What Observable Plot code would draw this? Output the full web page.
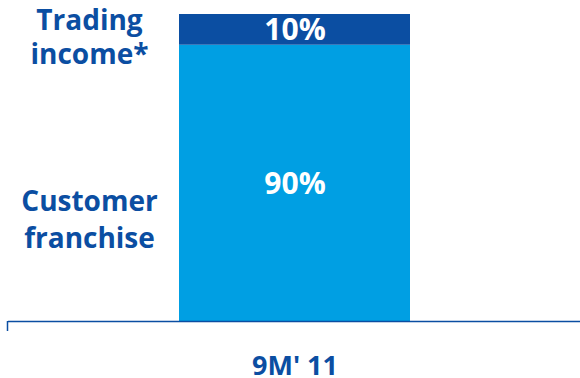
<!DOCTYPE html>
<html><head><meta charset="utf-8">
<script src="https://cdn.jsdelivr.net/npm/d3@7"></script>
<script src="https://cdn.jsdelivr.net/npm/@observablehq/plot@0.6"></script>
<style>body{margin:0;background:#fff}#chart svg{display:block}</style>
</head><body><div id="chart"></div>
<script>
const periods = ["9M' 11"];
const segments = ["Customer franchise", "Trading income*"];
const shares = [90, 10];
const segmentLabels = ["Customer\nfranchise", "Trading\nincome*"];
const colors = ["#009FE3", "#0B4EA2"];
const textBlue = "#0B4EA2";

const data = segments.map((s, i) => ({period: periods[0], segment: s, share: shares[i], label: segmentLabels[i]}));
const font = "'Open Sans', sans-serif";

const leftTick = (index, scales, values, dims) => {
  const g = d3.create("svg:g");
  g.append("line")
    .attr("x1", dims.marginLeft - 0.5).attr("x2", dims.marginLeft - 0.5)
    .attr("y1", dims.height - dims.marginBottom).attr("y2", dims.height - dims.marginBottom + 10)
    .attr("stroke", textBlue).attr("stroke-width", 1.5);
  return g.node();
};

const labelFor = seg => d => d.segment === seg ? d.label : null;

const chart = Plot.plot({
  width: 580,
  height: 378,
  marginLeft: 8,
  marginRight: 0,
  marginTop: 14,
  marginBottom: 57,
  style: {fontFamily: font, background: "#fff"},
  x: {domain: periods, padding: 0.425, axis: null},
  y: {domain: [0, 100], axis: null},
  color: {domain: segments, range: colors},
  marks: [
    Plot.barY(data, Plot.stackY({x: "period", y: "share", fill: "segment", z: "segment"})),
    Plot.ruleY([0], {stroke: textBlue, strokeWidth: 1.5}),
    leftTick,
    Plot.text(data, Plot.stackY({x: "period", y: "share", z: "segment", text: d => d.share + "%",
      fill: "white", fontSize: 30, fontWeight: "bold", dy: 1})),
    Plot.text(data, Plot.stackY({y: "share", z: "segment", text: labelFor(segments[1]),
      frameAnchor: "left", dx: 81, textAnchor: "middle", lineHeight: 1.21, fill: textBlue, fontSize: 28, fontWeight: "bold", dy: 6.5})),
    Plot.text(data, Plot.stackY({y: "share", z: "segment", text: labelFor(segments[0]),
      frameAnchor: "left", dx: 81, textAnchor: "middle", lineHeight: 1.32, fill: textBlue, fontSize: 28, fontWeight: "bold", dy: 34})),
    Plot.text(periods, {x: d => d, frameAnchor: "bottom", dy: 53, text: d => d,
      fill: textBlue, fontSize: 27, fontWeight: "bold", letterSpacing: "-0.5px"})
  ]
});
document.getElementById("chart").append(chart);
</script></body></html>
